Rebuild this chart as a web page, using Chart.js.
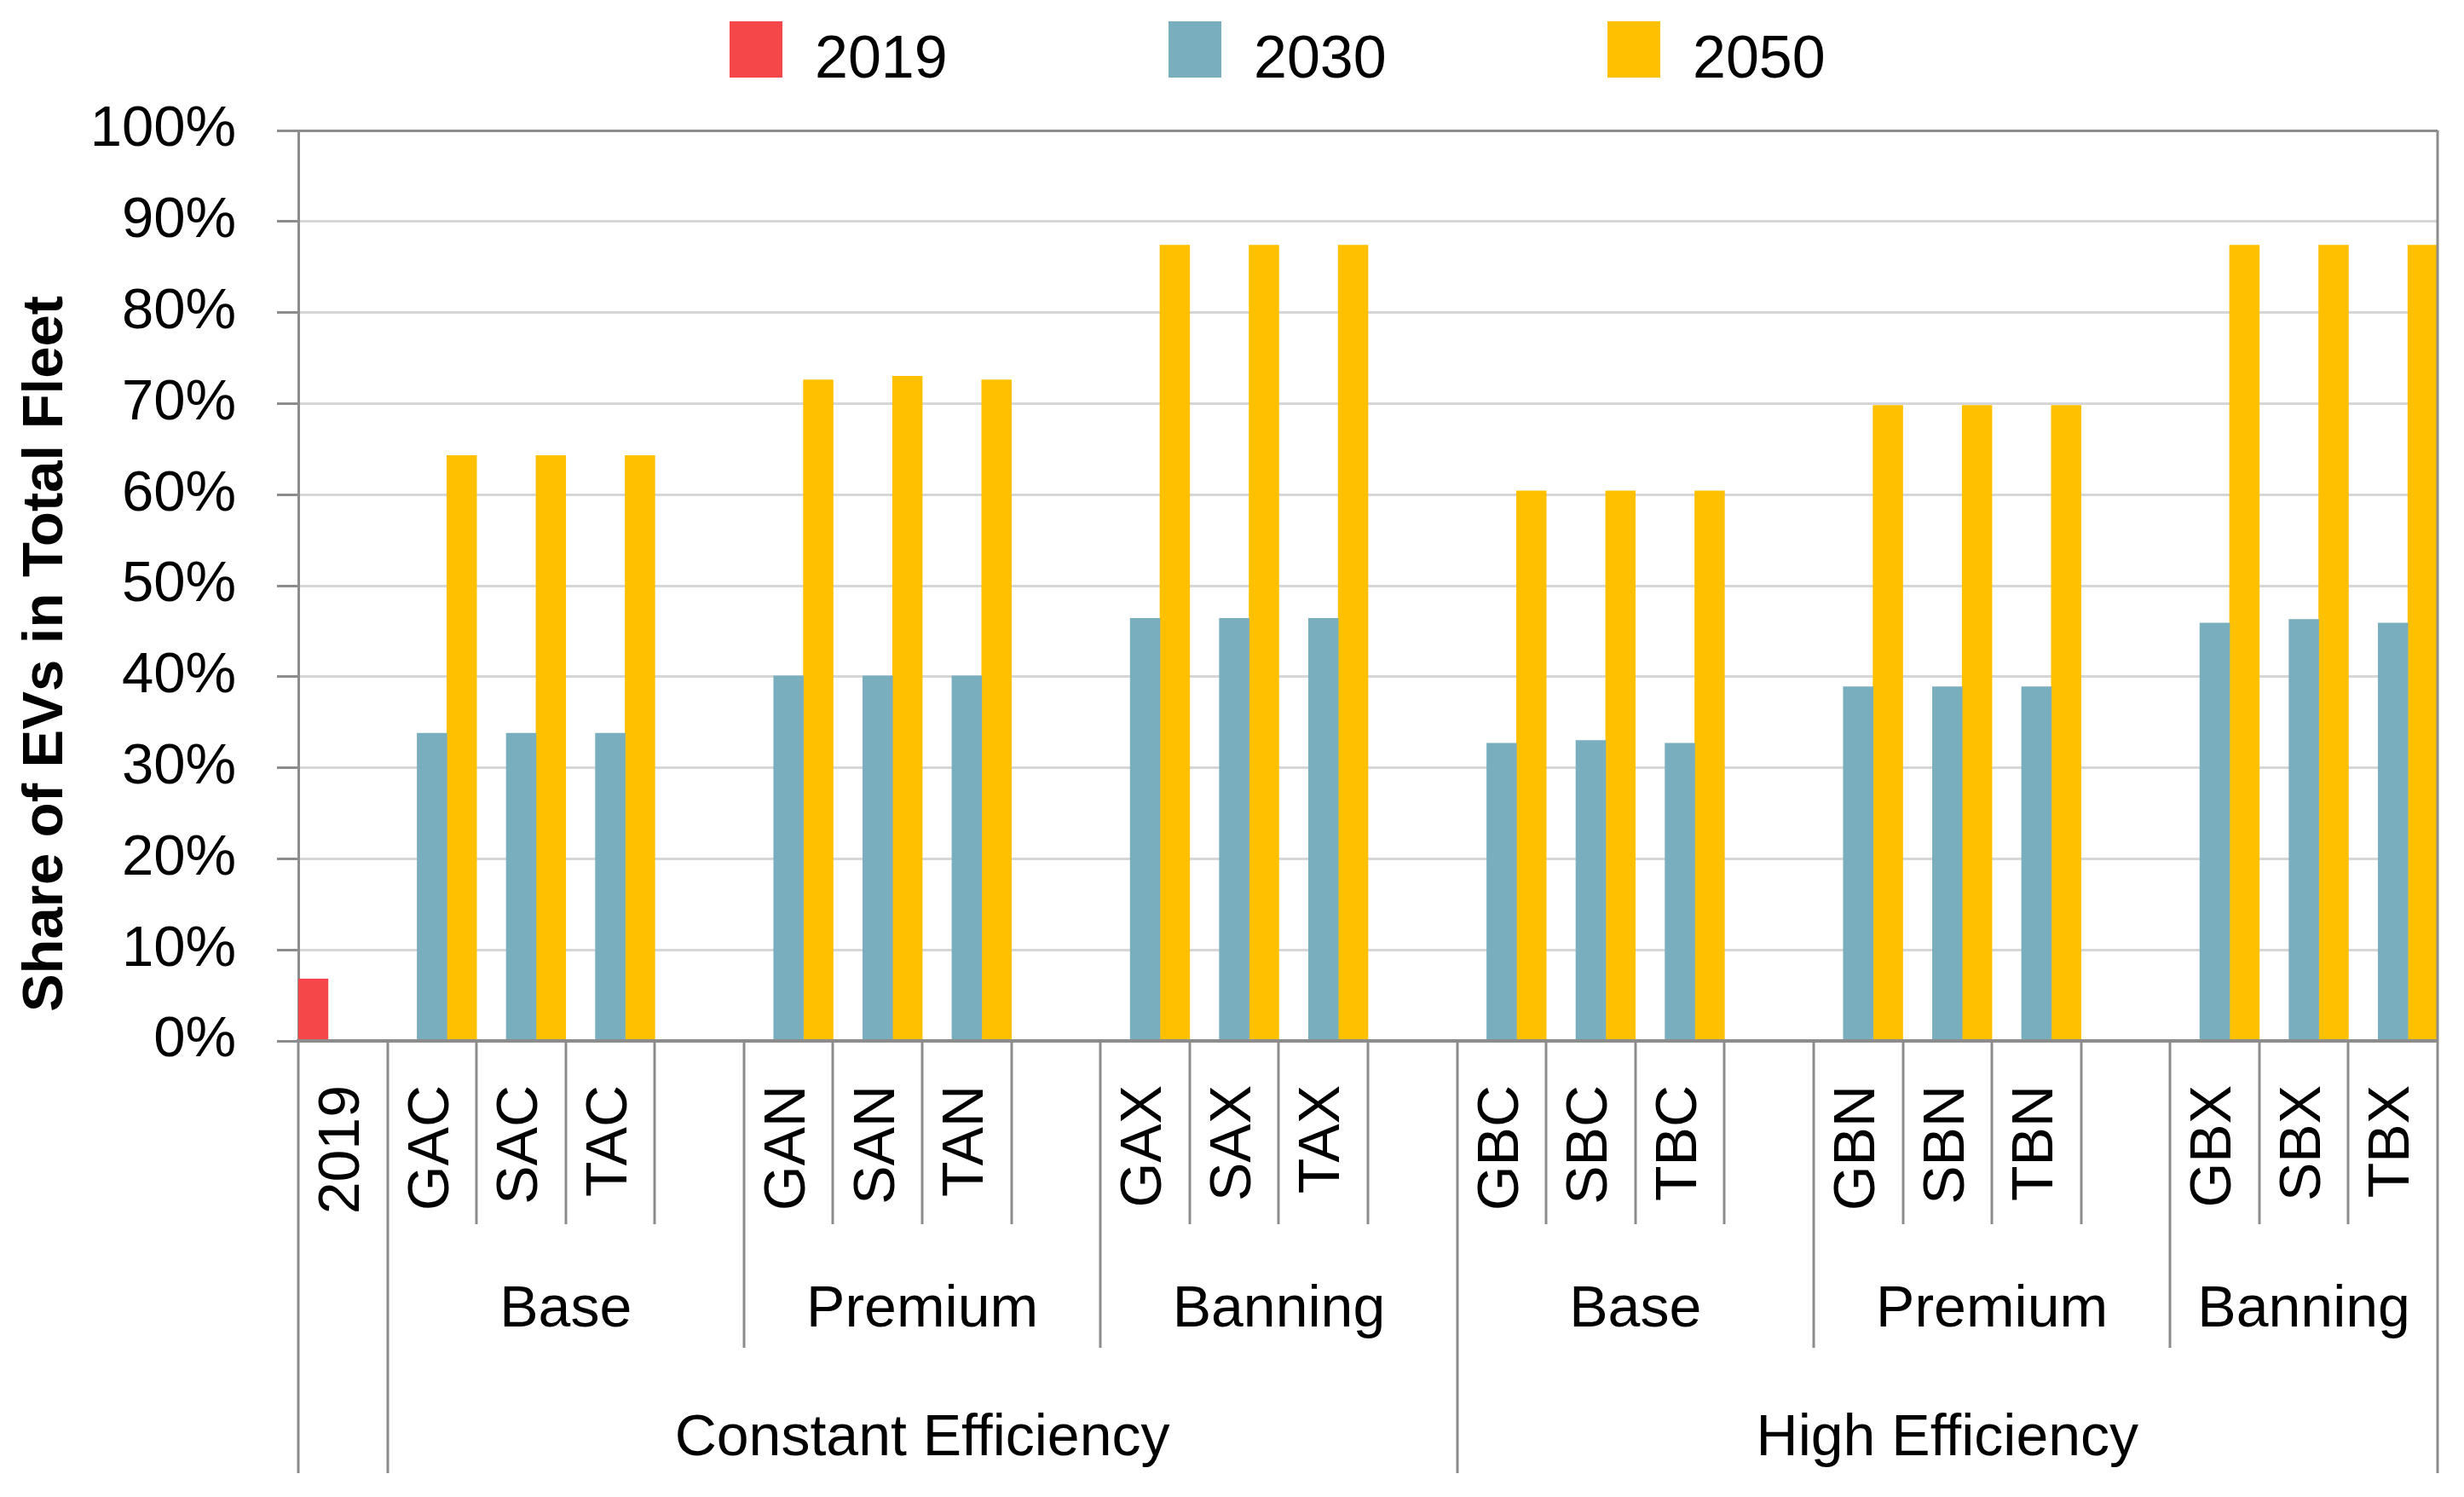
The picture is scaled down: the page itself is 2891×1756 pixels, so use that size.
<!DOCTYPE html>
<html>
<head>
<meta charset="utf-8">
<script src="https://cdn.jsdelivr.net/npm/chart.js@4.4.1/dist/chart.umd.min.js"></script>
<style>
  html, body { margin: 0; padding: 0; background: #fff; }
  canvas { display: block; }
</style>
</head>
<body>
<canvas id="chart" width="2891" height="1756"></canvas>
<script>
// Category labels (empty strings are the spacer slots between scenario groups)
const categories = ['2019', 'GAC', 'SAC', 'TAC', '', 'GAN', 'SAN', 'TAN', '', 'GAX', 'SAX', 'TAX', '',
  'GBC', 'SBC', 'TBC', '', 'GBN', 'SBN', 'TBN', '', 'GBX', 'SBX', 'TBX'];

// Second level: policy scenario for each category
const policyGroups = ['', 'Base', 'Base', 'Base', 'Base', 'Premium', 'Premium', 'Premium', 'Premium',
  'Banning', 'Banning', 'Banning', 'Banning', 'Base', 'Base', 'Base', 'Base',
  'Premium', 'Premium', 'Premium', 'Premium', 'Banning', 'Banning', 'Banning'];

// Third level: efficiency assumption for each category
const efficiencyGroups = ['',
  'Constant Efficiency', 'Constant Efficiency', 'Constant Efficiency', 'Constant Efficiency',
  'Constant Efficiency', 'Constant Efficiency', 'Constant Efficiency', 'Constant Efficiency',
  'Constant Efficiency', 'Constant Efficiency', 'Constant Efficiency', 'Constant Efficiency',
  'High Efficiency', 'High Efficiency', 'High Efficiency', 'High Efficiency',
  'High Efficiency', 'High Efficiency', 'High Efficiency', 'High Efficiency',
  'High Efficiency', 'High Efficiency', 'High Efficiency'];

const seriesNames = ['2019', '2030', '2050'];
const seriesColors = ['#f5474a', '#79aebf', '#ffc000'];

// Share of EVs in total fleet (%)
const share2019 = [6.8, null, null, null, null, null, null, null, null, null, null, null, null,
  null, null, null, null, null, null, null, null, null, null, null];
const share2030 = [null, 33.8, 33.8, 33.8, null, 40.1, 40.1, 40.1, null, 46.4, 46.4, 46.4, null,
  32.7, 33.0, 32.7, null, 38.9, 38.9, 38.9, null, 45.9, 46.3, 45.9];
const share2050 = [null, 64.3, 64.3, 64.3, null, 72.6, 73.0, 72.6, null, 87.4, 87.4, 87.4, null,
  60.4, 60.4, 60.4, null, 69.8, 69.8, 69.8, null, 87.4, 87.4, 87.4];

const yMin = 0;
const yMax = 100;
const yStep = 10;
const yTitle = 'Share of EVs in Total Fleet';

const fontFamily = '"Liberation Sans", Arial, sans-serif';
const axisGray = '#8c8c8c';
const gridGray = '#d6d6d6';

// runs of identical consecutive labels -> [{label, start, end}]
function groupRuns(keys, labels) {
  const runs = [];
  keys.forEach((k, i) => {
    const last = runs[runs.length - 1];
    if (last && last.key === k) last.end = i;
    else runs.push({ key: k, label: labels[i], start: i, end: i });
  });
  return runs.filter(r => r.label !== '');
}

const decorPlugin = {
  id: 'decor',
  afterDraw(chart) {
    const { ctx, chartArea, scales: { x } } = chart;
    const n = categories.length;
    const half = (x.getPixelForValue(1) - x.getPixelForValue(0)) / 2;
    const edgeX = i => x.getPixelForValue(i) - half;
    const base = chartArea.bottom;

    ctx.save();
    ctx.strokeStyle = axisGray;
    ctx.lineWidth = 3;

    // right plot border
    ctx.beginPath();
    ctx.moveTo(chartArea.right, chartArea.top);
    ctx.lineTo(chartArea.right, base);
    ctx.stroke();

    // separators for the 3 label rows
    const rowDepth = [215, 360, 507];
    for (let i = 0; i <= n; i++) {
      let level = 0;
      if (i === 0 || i === n || efficiencyGroups[i - 1] !== efficiencyGroups[i]) level = 2;
      else if (policyGroups[i - 1] !== policyGroups[i]) level = 1;
      const px = Math.round(edgeX(i));
      ctx.beginPath();
      ctx.moveTo(px, base);
      ctx.lineTo(px, base + rowDepth[level]);
      ctx.stroke();
    }

    // group labels
    ctx.fillStyle = '#000';
    ctx.textAlign = 'center';
    ctx.textBaseline = 'alphabetic';
    ctx.font = '68px ' + fontFamily;
    const policyKeys = policyGroups.map((p, i) => efficiencyGroups[i] + '|' + p);
    groupRuns(policyKeys, policyGroups).forEach(r => {
      const cx = (edgeX(r.start) + edgeX(r.end + 1)) / 2;
      ctx.fillText(r.label, cx, base + 335);
    });
    groupRuns(efficiencyGroups, efficiencyGroups).forEach(r => {
      const cx = (edgeX(r.start) + edgeX(r.end + 1)) / 2;
      ctx.fillText(r.label, cx, base + 486);
    });

    // y axis title
    ctx.save();
    ctx.translate(55, 767);
    ctx.rotate(-Math.PI / 2);
    ctx.font = 'bold 67px ' + fontFamily;
    ctx.textBaseline = 'middle';
    ctx.fillText(yTitle, 0, 0);
    ctx.restore();

    // legend
    ctx.textAlign = 'left';
    ctx.font = '70px ' + fontFamily;
    chart.data.datasets.forEach((ds, i) => {
      const lx = 856 + i * 515;
      ctx.fillStyle = ds.backgroundColor;
      ctx.fillRect(lx, 25, 62, 66);
      ctx.fillStyle = '#000';
      ctx.fillText(ds.label, lx + 100, 91);
    });
    ctx.restore();
  }
};

const seriesData = [share2019, share2030, share2050];

new Chart(document.getElementById('chart').getContext('2d'), {
  type: 'bar',
  data: {
    labels: categories,
    datasets: seriesNames.map((name, i) => ({
      label: name,
      data: seriesData[i],
      backgroundColor: seriesColors[i],
      borderWidth: 0,
      categoryPercentage: 1,
      barPercentage: 1
    }))
  },
  options: {
    responsive: false,
    animation: false,
    devicePixelRatio: 1,
    layout: { padding: { top: 153, right: 31, bottom: 0, left: 0 } },
    plugins: {
      legend: { display: false },
      tooltip: { enabled: false }
    },
    scales: {
      x: {
        grid: { display: false, drawTicks: false },
        border: { display: true, color: axisGray, width: 4, z: 1 },
        ticks: {
          autoSkip: false,
          minRotation: 90,
          maxRotation: 90,
          padding: 52,
          color: '#000',
          font: { family: fontFamily, size: 68 }
        },
        afterFit(scale) {
          scale.height = 535;
          scale.paddingLeft = 0;
          scale.paddingRight = 0;
        }
      },
      y: {
        min: yMin,
        max: yMax,
        ticks: {
          stepSize: yStep,
          padding: 48,
          color: '#000',
          font: { family: fontFamily, size: 67 },
          callback: v => v + '%'
        },
        grid: {
          color: c => (c.tick && c.tick.value === yMax ? axisGray : gridGray),
          lineWidth: 3,
          tickColor: axisGray,
          tickLength: 25,
          tickWidth: 3
        },
        border: { color: axisGray, width: 3 },
        afterFit(scale) { scale.width = 350; }
      }
    }
  },
  plugins: [decorPlugin]
});
</script>
</body>
</html>
